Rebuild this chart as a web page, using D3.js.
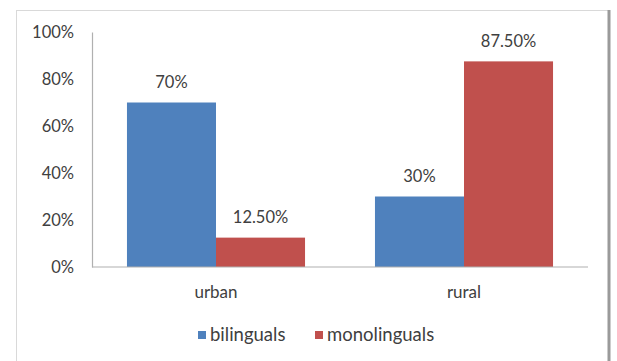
<!DOCTYPE html>
<html>
<head>
<meta charset="utf-8">
<script src="https://cdn.jsdelivr.net/npm/d3@7"></script>
<style>
  html, body { margin: 0; padding: 0; background: #fff; }
  svg { display: block; }
  text { font-family: Lato, "Open Sans", sans-serif; fill: #404040; }
</style>
</head>
<body>
<svg id="chart" width="617" height="361"></svg>
<script>
// Share of bilinguals and monolinguals by area
const categories = ["urban", "rural"];
const seriesNames = ["bilinguals", "monolinguals"];
const bilinguals = [70, 30];
const monolinguals = [12.5, 87.5];
const valueLabels = [["70%", "30%"], ["12.50%", "87.50%"]];
const yTicks = [0, 20, 40, 60, 80, 100];
const colors = ["#4F81BD", "#C0504D"];

const svg = d3.select("#chart");
const W = 617, H = 361;
const plot = { left: 92, right: 588, top: 32, bottom: 267 };
const fontSize = 16.5;

// chart frame
svg.append("rect").attr("x", 16.5).attr("y", 10.5).attr("width", 592).attr("height", 400)
  .attr("fill", "#fff").attr("stroke", "#d9d9d9").attr("stroke-width", 1);
svg.append("line").attr("x1", 609).attr("x2", 609).attr("y1", 10).attr("y2", H)
  .attr("stroke", "#9a9a9a").attr("stroke-width", 3);

const x0 = d3.scaleBand().domain(categories).range([plot.left, plot.right]).paddingInner(0.282).paddingOuter(0.141);
const x1 = d3.scaleBand().domain(seriesNames).range([0, x0.bandwidth()]);
const y = d3.scaleLinear().domain([0, 100]).range([plot.bottom, plot.top]);

const series = [bilinguals, monolinguals];

// bars
series.forEach((vals, si) => {
  svg.append("g").selectAll("rect").data(vals).join("rect")
    .attr("x", (d, i) => x0(categories[i]) + x1(seriesNames[si]))
    .attr("y", d => y(d))
    .attr("width", x1.bandwidth())
    .attr("height", d => y(0) - y(d))
    .attr("fill", colors[si]);
  svg.append("g").selectAll("text").data(vals).join("text")
    .attr("x", (d, i) => x0(categories[i]) + x1(seriesNames[si]) + x1.bandwidth() / 2)
    .attr("y", d => y(d) - 20)
    .attr("dy", "0.35em")
    .attr("text-anchor", "middle")
    .attr("font-size", fontSize)
    .text((d, i) => valueLabels[si][i]);
});

// y axis
const yAxis = d3.axisLeft(y).tickValues(yTicks).tickFormat(d => d + "%").tickSize(0).tickPadding(18);
const gy = svg.append("g").attr("transform", `translate(${plot.left},0)`).call(yAxis);
gy.select(".domain").attr("stroke", "#b0b0b0").attr("stroke-width", 1.2);
gy.selectAll("text").attr("font-size", fontSize).attr("font-family", null).attr("fill", "#404040");

// x axis
const xAxis = d3.axisBottom(x0).tickSize(0).tickPadding(19);
const gx = svg.append("g").attr("transform", `translate(0,${plot.bottom})`).call(xAxis);
gx.select(".domain").attr("d", `M${plot.left},0H${plot.right}`).attr("stroke", "#b0b0b0").attr("stroke-width", 1.2);
gx.selectAll("text").attr("font-size", 17).attr("font-family", null).attr("fill", "#404040");

// legend
const legendItems = [{ name: seriesNames[0], x: 198 }, { name: seriesNames[1], x: 315 }];
const lg = svg.append("g");
legendItems.forEach((it, i) => {
  lg.append("rect").attr("x", it.x).attr("y", 331).attr("width", 8).attr("height", 8).attr("fill", colors[i]);
  lg.append("text").attr("x", it.x + 12).attr("y", 335).attr("dy", "0.35em")
    .attr("font-size", 18.5).text(it.name);
});
</script>
</body>
</html>
